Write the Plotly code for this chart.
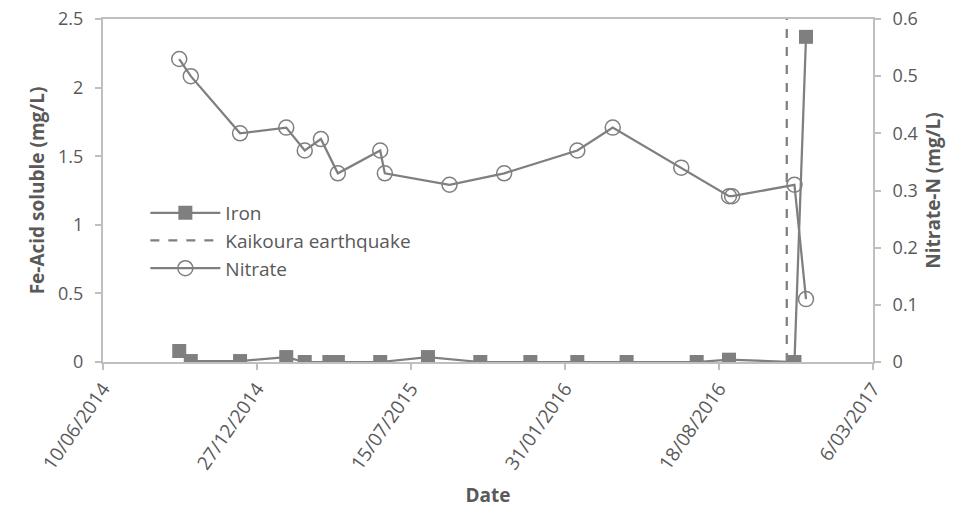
import plotly.graph_objects as go

# Sampling dates and measured concentrations
iron_dates = [
    "2014-09-17", "2014-10-02", "2014-12-05", "2015-02-03", "2015-02-27",
    "2015-03-31", "2015-04-11", "2015-06-05", "2015-08-06", "2015-10-13",
    "2015-12-17", "2016-02-16", "2016-04-20", "2016-07-20", "2016-08-31",
    "2016-11-24", "2016-12-09",
]
iron_values = [
    0.08, 0.007, 0.007, 0.036, 0.0,
    0.0, 0.0, 0.0, 0.036, 0.0,
    0.0, 0.0, 0.0, 0.0, 0.017,
    0.0, 2.37,
]

nitrate_dates = [
    "2014-09-17", "2014-10-02", "2014-12-05", "2015-02-03", "2015-02-27",
    "2015-03-20", "2015-04-11", "2015-06-05", "2015-06-11", "2015-09-03",
    "2015-11-13", "2016-02-16", "2016-04-02", "2016-06-30", "2016-08-31",
    "2016-09-04", "2016-11-24", "2016-12-09",
]
nitrate_values = [
    0.53, 0.50, 0.40, 0.41, 0.37,
    0.39, 0.33, 0.37, 0.33, 0.31,
    0.33, 0.37, 0.41, 0.34, 0.29,
    0.29, 0.31, 0.11,
]

quake_date = "2016-11-14"
quake_span = [0, 2.5]

x_tick_vals = ["2014-06-10", "2014-12-27", "2015-07-15", "2016-01-31", "2016-08-18", "2017-03-06"]
x_tick_text = ["10/06/2014", "27/12/2014", "15/07/2015", "31/01/2016", "18/08/2016", "6/03/2017"]

GREY = "#7f7f7f"
TEXT = "#595959"
AXIS = "#bfbfbf"
FONT = "'Open Sans', Lato, sans-serif"

fig = go.Figure()

fig.add_trace(go.Scatter(
    x=iron_dates, y=iron_values, name="Iron", mode="lines+markers",
    line=dict(color=GREY, width=2.25),
    marker=dict(symbol="square", size=14, color=GREY),
    yaxis="y",
))

fig.add_trace(go.Scatter(
    x=[quake_date, quake_date], y=quake_span, name="Kaikoura earthquake", mode="lines",
    line=dict(color=GREY, width=2.25, dash="dash"),
    yaxis="y",
))

fig.add_trace(go.Scatter(
    x=nitrate_dates, y=nitrate_values, name="Nitrate", mode="lines+markers",
    line=dict(color=GREY, width=2.25),
    marker=dict(symbol="circle-open", size=15, color=GREY, line=dict(width=1.5, color=GREY)),
    yaxis="y2",
))

fig.update_layout(
    width=971, height=508,
    margin=dict(l=103, r=98, t=19, b=146),
    paper_bgcolor="white", plot_bgcolor="white",
    font=dict(family=FONT, color=TEXT, size=18),
    showlegend=True,
    legend=dict(
        x=0.055, y=0.49, xanchor="left", yanchor="top",
        bgcolor="rgba(0,0,0,0)", font=dict(size=19, color=TEXT),
        itemwidth=70, tracegroupgap=0,
    ),
    xaxis=dict(
        type="date", range=["2014-06-10", "2017-03-06"],
        tickmode="array", tickvals=x_tick_vals, ticktext=x_tick_text,
        tickangle=-55, tickfont=dict(size=19, color=TEXT),
        showgrid=False, zeroline=False, automargin=False,
        showline=True, linecolor=AXIS, linewidth=2, mirror=True,
        ticks="outside", ticklen=6, tickcolor=AXIS, tickwidth=1.5,
        title=dict(text="<b>Date</b>", font=dict(size=19, color=TEXT), standoff=17),
    ),
    yaxis=dict(
        range=[0, 2.5], tickvals=[0, 0.5, 1, 1.5, 2, 2.5],
        ticktext=["0", "0.5", "1", "1.5", "2", "2.5"],
        tickfont=dict(size=18, color=TEXT),
        showgrid=False, zeroline=False, automargin=False,
        showline=True, linecolor=AXIS, linewidth=2,
        ticks="outside", ticklen=6, tickcolor=AXIS, tickwidth=1.5,
        ticklabelstandoff=8,
        title=dict(text="<b>Fe-Acid soluble (mg/L)</b>", font=dict(size=19, color=TEXT), standoff=8),
    ),
    yaxis2=dict(
        range=[0, 0.6], tickvals=[0, 0.1, 0.2, 0.3, 0.4, 0.5, 0.6],
        ticktext=["0", "0.1", "0.2", "0.3", "0.4", "0.5", "0.6"],
        overlaying="y", side="right",
        tickfont=dict(size=18, color=TEXT),
        showgrid=False, zeroline=False, automargin=False,
        showline=True, linecolor=AXIS, linewidth=2,
        ticks="outside", ticklen=6, tickcolor=AXIS, tickwidth=1.5,
        ticklabelstandoff=8,
        title=dict(text="<b>Nitrate-N (mg/L)</b>", font=dict(size=19, color=TEXT), standoff=10),
    ),
)

fig.write_html("out.html")
